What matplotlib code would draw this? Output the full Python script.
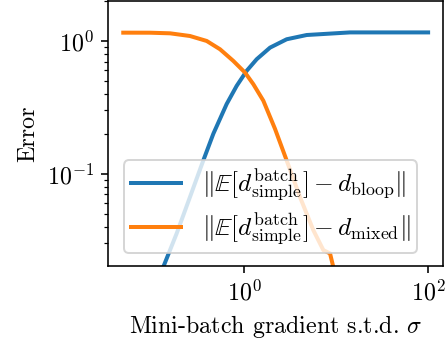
import numpy as np
import matplotlib
matplotlib.use("Agg")
import matplotlib.pyplot as plt
from matplotlib.ticker import NullLocator

plt.rcParams['font.family'] = 'cmr10'
plt.rcParams['mathtext.fontset'] = 'cm'
plt.rcParams['axes.formatter.use_mathtext'] = True
plt.rcParams['axes.unicode_minus'] = False
plt.rcParams['font.size'] = 12

# data (log10 sigma, error)
orange_logx = [-1.317, -1.026, -0.808, -0.591, -0.409, -0.264, -0.120, 0.008, 0.098,
               0.207, 0.334, 0.461, 0.606, 0.751, 0.860, 0.933, 0.968, 1.05]
orange_y = [1.155, 1.154, 1.142, 1.090, 1.0, 0.866, 0.708, 0.578, 0.473,
            0.355, 0.218, 0.126, 0.0668, 0.0376, 0.0266, 0.0251, 0.0199, 0.010]
blue_logx = [-1.317, -1.05, -0.881, -0.736, -0.591, -0.446, -0.337, -0.192, -0.083,
             0.026, 0.135, 0.280, 0.461, 0.679, 1.15, 2.0]
blue_y = [0.002, 0.009, 0.0199, 0.0355, 0.0668, 0.126, 0.200, 0.335, 0.459,
          0.596, 0.729, 0.891, 1.03, 1.109, 1.16, 1.16]

fig = plt.figure(figsize=(448/144, 341/144), dpi=144)
ax = fig.add_axes([108/448, 1 - 266/341, (443-108)/448, 265/341])

ax.plot(10**np.array(blue_logx), blue_y, color='#1f77b4', lw=2,
        label=r'$\|\mathbb{E}[d^{\mathrm{batch}}_{\mathrm{simple}}] - d_{\mathrm{bloop}}\|$')
ax.plot(10**np.array(orange_logx), orange_y, color='#ff7f0e', lw=2,
        label=r'$\|\mathbb{E}[d^{\mathrm{batch}}_{\mathrm{simple}}] - d_{\mathrm{mixed}}\|$')
ax.set_xscale('log')
ax.set_yscale('log')
ax.set_xlim(10**-1.483, 10**2.162)
ax.set_ylim(0.0202, 2.0)
ax.set_xticks([1, 100])
ax.xaxis.set_minor_locator(NullLocator())
ax.set_xlabel(r'Mini-batch gradient s.t.d. $\sigma$')
ax.set_ylabel('Error')
ax.legend(loc='lower center', bbox_to_anchor=(0.485, 0.0), fontsize=12.7,
          labelspacing=0.3, borderpad=0.25)

fig.savefig('out.png', dpi=144)
